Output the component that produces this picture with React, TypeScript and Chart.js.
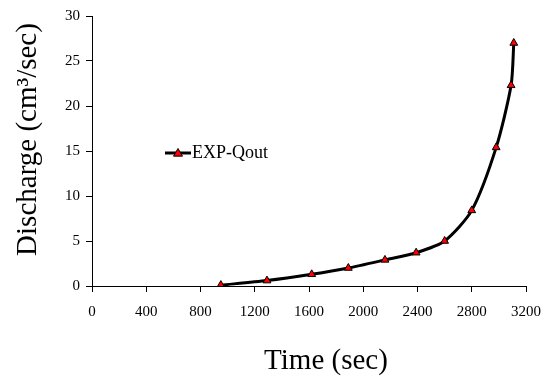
import React, { useEffect, useRef } from "react";
import { Chart, registerables } from "chart.js";

Chart.register(...registerables);

const timeSec = [950, 1290, 1620, 1890, 2160, 2390, 2600, 2800, 2980, 3090, 3110];
const dischargeQout = [0.1, 0.6, 1.3, 2.0, 2.9, 3.7, 5.0, 8.4, 15.4, 22.3, 27.0];
const seriesLabel = "EXP-Qout";
const xTitle = "Time (sec)";
const yTitle = "Discharge (cm\u00B3/sec)";

const FONT = "'Liberation Serif', 'Times New Roman', serif";

const decorations = {
  id: "decorations",
  afterDraw(chart: any) {
    const { ctx, chartArea } = chart;
    ctx.save();
    // legend inside plot
    const x0 = chartArea.left + 73;
    const y0 = chartArea.top + 137;
    ctx.strokeStyle = "#000";
    ctx.lineWidth = 3;
    ctx.beginPath();
    ctx.moveTo(x0, y0);
    ctx.lineTo(x0 + 26, y0);
    ctx.stroke();
    const cx = x0 + 13;
    const r = 4.5;
    ctx.fillStyle = "#ff0000";
    ctx.lineWidth = 1;
    ctx.beginPath();
    ctx.moveTo(cx, y0 - r);
    ctx.lineTo(cx + r, y0 + r * 0.7);
    ctx.lineTo(cx - r, y0 + r * 0.7);
    ctx.closePath();
    ctx.fill();
    ctx.stroke();
    ctx.fillStyle = "#000";
    ctx.font = `18px ${FONT}`;
    ctx.textBaseline = "middle";
    ctx.textAlign = "left";
    ctx.fillText(seriesLabel, x0 + 27, y0);

    // axis titles
    ctx.font = `29px ${FONT}`;
    ctx.textBaseline = "alphabetic";
    ctx.textAlign = "center";
    ctx.fillText(xTitle, chartArea.left + 234, chartArea.bottom + 83);
    ctx.translate(chartArea.left - 56, chartArea.top + 123.5);
    ctx.rotate(-Math.PI / 2);
    ctx.fillText(yTitle, 0, 0);
    ctx.restore();
  },
};

export default function App() {
  const ref = useRef<HTMLCanvasElement | null>(null);
  useEffect(() => {
    document.body.style.margin = "0";
    const canvas = ref.current;
    if (!canvas) return;
    const chart = new Chart(canvas, {
      type: "line",
      data: {
        datasets: [
          {
            label: seriesLabel,
            data: timeSec.map((t, i) => ({ x: t, y: dischargeQout[i] })),
            borderColor: "#000",
            borderWidth: 3,
            backgroundColor: "#ff0000",
            pointStyle: "triangle",
            pointRadius: 4.5,
            pointBorderColor: "#000",
            pointBorderWidth: 1,
            pointBackgroundColor: "#ff0000",
            tension: 0.25,
            fill: false,
          },
        ],
      },
      options: {
        responsive: false,
        animation: false,
        layout: { padding: { top: 16, right: 16, left: 0, bottom: 0 } },
        plugins: {
          legend: { display: false },
          tooltip: { enabled: false },
        },
        scales: {
          x: {
            type: "linear",
            min: 0,
            max: 3200,
            ticks: {
              stepSize: 400,
              color: "#000",
              font: { family: FONT, size: 15 },
              padding: 11,
              maxRotation: 0,
              callback: (v: any) => String(v),
            },
            grid: {
              drawOnChartArea: false,
              drawTicks: true,
              tickLength: 6,
              color: "#000",
            },
            border: { display: true, color: "#000", width: 1 },
            title: { display: false, text: xTitle },
            afterFit(scale: any) {
              scale.height = 93;
              scale.paddingLeft = 0;
              scale.paddingRight = 0;
            },
          },
          y: {
            type: "linear",
            min: 0,
            max: 30,
            ticks: {
              stepSize: 5,
              color: "#000",
              font: { family: FONT, size: 15 },
              padding: 6,
              callback: (v: any) => String(v),
            },
            grid: {
              drawOnChartArea: false,
              drawTicks: true,
              tickLength: 6,
              color: "#000",
            },
            border: { display: true, color: "#000", width: 1 },
            title: { display: false, text: yTitle },
            afterFit(scale: any) {
              scale.width = 92;
              scale.paddingTop = 0;
              scale.paddingBottom = 0;
            },
          },
        },
      },
      plugins: [decorations],
    });
    return () => chart.destroy();
  }, []);
  return (
    <div style={{ width: 542, height: 379, background: "#fff" }}>
      <canvas ref={ref} width={542} height={379} />
    </div>
  );
}
